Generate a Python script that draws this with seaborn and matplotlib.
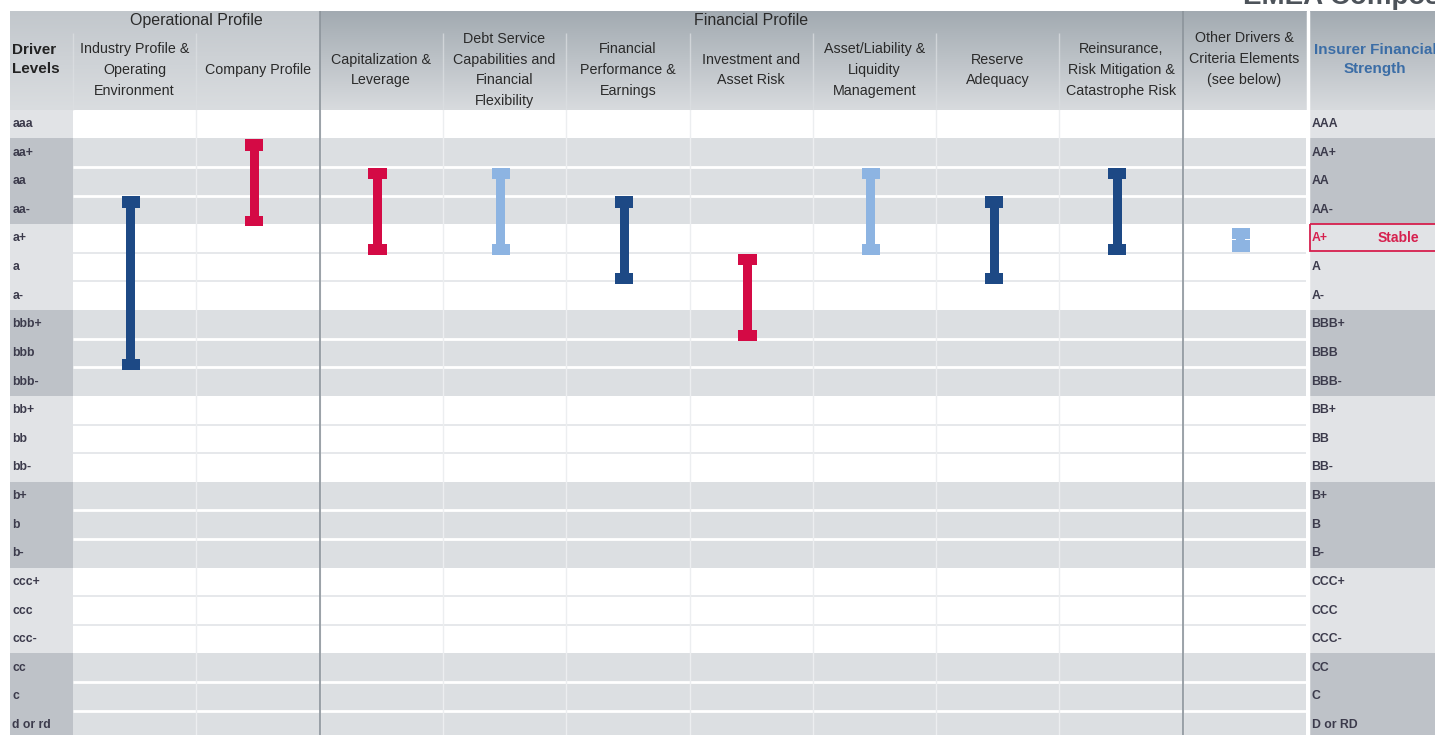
import numpy as np
import matplotlib
matplotlib.use('Agg')
import matplotlib.pyplot as plt
from matplotlib.colors import LinearSegmentedColormap
from matplotlib.patches import Rectangle
import seaborn as sns

# rating scales
driver_levels = ['aaa', 'aa+', 'aa', 'aa-', 'a+', 'a', 'a-', 'bbb+', 'bbb', 'bbb-',
                 'bb+', 'bb', 'bb-', 'b+', 'b', 'b-', 'ccc+', 'ccc', 'ccc-',
                 'cc', 'c', 'd or rd']
ifs_levels = ['AAA', 'AA+', 'AA', 'AA-', 'A+', 'A', 'A-', 'BBB+', 'BBB', 'BBB-',
              'BB+', 'BB', 'BB-', 'B+', 'B', 'B-', 'CCC+', 'CCC', 'CCC-',
              'CC', 'C', 'D or RD']
# rating family of each row (aaa, aa, a, bbb, bb, b, ccc, cc/c/d)
row_family = [0, 1, 1, 1, 2, 2, 2, 3, 3, 3, 4, 4, 4, 5, 5, 5, 6, 6, 6, 7, 7, 7]

# key rating drivers
drivers = ['Industry Profile &\nOperating\nEnvironment', 'Company Profile',
           'Capitalization &\nLeverage',
           'Debt Service\nCapabilities and\nFinancial\nFlexibility',
           'Financial\nPerformance &\nEarnings', 'Investment and\nAsset Risk',
           'Asset/Liability &\nLiquidity\nManagement', 'Reserve\nAdequacy',
           'Reinsurance,\nRisk Mitigation &\nCatastrophe Risk',
           'Other Drivers &\nCriteria Elements\n(see below)']
driver_high = ['aa-', 'aa+', 'aa', 'aa', 'aa-', 'a', 'aa', 'aa-', 'aa', 'a+']
driver_low = ['bbb', 'aa-', 'a+', 'a+', 'a', 'bbb+', 'a+', 'a', 'a+', 'a+']
driver_tone = ['dark', 'red', 'red', 'light', 'dark', 'red', 'light', 'dark', 'dark', 'light']

groups = ['Operational Profile', 'Financial Profile']
group_first = [0, 2]
group_last = [1, 8]

ifs_rating = 'A+'
ifs_outlook = 'Stable'

tones = {'red': '#D40A45', 'dark': '#1D4985', 'light': '#8DB4E2'}

sns.set_theme(style='white')
plt.rcParams['font.family'] = ['Liberation Sans', 'DejaVu Sans']

fig = plt.figure(figsize=(14.35, 7.35), dpi=100)
ax = fig.add_axes([0, 0, 1, 1])
ax.axis('off')

n_cols = len(drivers)
n_rows = len(driver_levels)
left_edge = -1.011      # left edge of the label column
right_edge = 10.7       # right column runs off the picture
head_top = -3.934
group_bottom = -3.18

# row backgrounds
for r in range(n_rows):
    shaded = row_family[r] % 2 == 1
    ax.barh(r, n_cols, left=-0.5, height=1, color='#DCDFE2' if shaded else 'white',
            linewidth=0, zorder=1)
    side = '#BEC2C8' if shaded else '#E1E3E6'
    ax.barh(r, -0.5 - left_edge, left=left_edge, height=1, color=side, linewidth=0, zorder=1)
    ax.barh(r, right_edge - n_cols + 0.5 + 0.03, left=n_cols - 0.5 + 0.03, height=1,
            color=side, linewidth=0, zorder=1)
    if r < n_rows - 1 and row_family[r] == row_family[r + 1]:
        ax.hlines(r + 0.5, -0.5, n_cols - 0.5, color='white' if shaded else '#E4E6E9',
                  lw=2 if shaded else 1.3, zorder=2)

# column separators in body
for c in range(n_cols - 1):
    ax.vlines(c + 0.5, -0.5, n_rows, color='#ECEEF0', lw=1, zorder=2)

# header gradients
grad = np.linspace(0, 1, 256).reshape(-1, 1)
light_cm = LinearSegmentedColormap.from_list('lh', ['#C2C7CC', '#DADDE0'])
dark_cm = LinearSegmentedColormap.from_list('dh', ['#A2AAB1', '#D8DBDE'])
ax.imshow(grad, cmap=light_cm, aspect='auto', extent=(left_edge, 1.5, -0.5, head_top), zorder=1)
ax.imshow(grad, cmap=dark_cm, aspect='auto', extent=(1.5, n_cols - 0.5, -0.5, head_top), zorder=1)
ax.imshow(grad, cmap=dark_cm, aspect='auto',
          extent=(n_cols - 0.5 + 0.03, right_edge, -0.5, head_top), zorder=1)
for c in range(n_cols - 1):
    if c + 0.5 not in (1.5, 8.5):
        ax.vlines(c + 0.5, group_bottom, -0.5, color='#DDE0E3', lw=1, alpha=0.7, zorder=2)
ax.vlines(-0.5, group_bottom, -0.5, color='#DDE0E3', lw=1, alpha=0.7, zorder=2)

# main section dividers
for xv in (1.5, 8.5):
    ax.vlines(xv, head_top, n_rows, color='#8C949B', lw=1.2, zorder=3)
ax.vlines(n_cols - 0.5 + 0.015, head_top, n_rows, color='white', lw=2.5, zorder=3)

# header text
for g, a, b in zip(groups, group_first, group_last):
    ax.text((a + b) / 2, -3.6, g, ha='center', va='center', fontsize=11.5, color='#2a2a2a', zorder=4)
for c, name in enumerate(drivers):
    yc = -2.27 if c == n_cols - 1 else -1.89
    ax.text(c, yc, name, ha='center', va='center', fontsize=10.3, color='#2a2a2a',
            linespacing=1.62, zorder=4)
ax.text(left_edge + 0.02, -2.27, 'Driver\nLevels', ha='left', va='center', fontsize=11,
        fontweight='bold', color='#222222', linespacing=1.45, zorder=4)
ax.text(10.06, -2.27, 'Insurer Financial\nStrength', ha='center', va='center', fontsize=11,
        fontweight='bold', color='#3B6DA6', linespacing=1.45, zorder=4)
# page title, mostly cut off at the top edge
ax.text(8.99, -4.2, 'EMEA Composite', ha='left', va='baseline', fontsize=20,
        fontweight='bold', color='#4D535A', zorder=4)

# row labels
for r, (lab, ifs) in enumerate(zip(driver_levels, ifs_levels)):
    ax.text(left_edge + 0.02, r, lab, ha='left', va='center', fontsize=8.8,
            fontweight='bold', color='#3C3B4C', zorder=4)
    hit = ifs == ifs_rating
    ax.text(n_cols - 0.5 + 0.045, r, ifs, ha='left', va='center', fontsize=8.8,
            fontweight='bold', color='#D6204E' if hit else '#3C3B4C', zorder=4)
    if hit:
        ax.text(10.246, r, ifs_outlook, ha='center', va='center', fontsize=10,
                fontweight='bold', color='#D6204E', zorder=4)
        ax.add_patch(Rectangle((n_cols - 0.5 + 0.035, r - 0.5), 2, 0.95, fill=False,
                               edgecolor='#D6204E', lw=1.3, zorder=4))

# driver ranges as I-beams
for c, (hi, lo, tone) in enumerate(zip(driver_high, driver_low, driver_tone)):
    top = driver_levels.index(hi) - 0.5
    bot = driver_levels.index(lo) + 0.5
    col = tones[tone]
    xc = c - 0.03
    if hi == lo:
        # single notch: caps nearly touch
        ax.bar(xc, 0.83, bottom=top + 0.13, width=0.073, color=col, linewidth=0, zorder=5)
        ax.bar(xc, 0.4, bottom=top + 0.13, width=0.148, color=col, linewidth=0, zorder=5)
        ax.bar(xc, 0.39, bottom=top + 0.57, width=0.148, color=col, linewidth=0, zorder=5)
        continue
    ax.bar(xc, (bot - 0.15) - (top + 0.2), bottom=top + 0.2, width=0.073, color=col,
           linewidth=0, zorder=5)
    ax.bar(xc, 0.4, bottom=top + 0.03, width=0.148, color=col, linewidth=0, zorder=5)
    ax.bar(xc, 0.38, bottom=bot - 0.3, width=0.148, color=col, linewidth=0, zorder=5)

ax.set_xlim(-1.092, 10.546)
ax.set_ylim(21.349, -4.333)

fig.savefig('out.png', dpi=100)
